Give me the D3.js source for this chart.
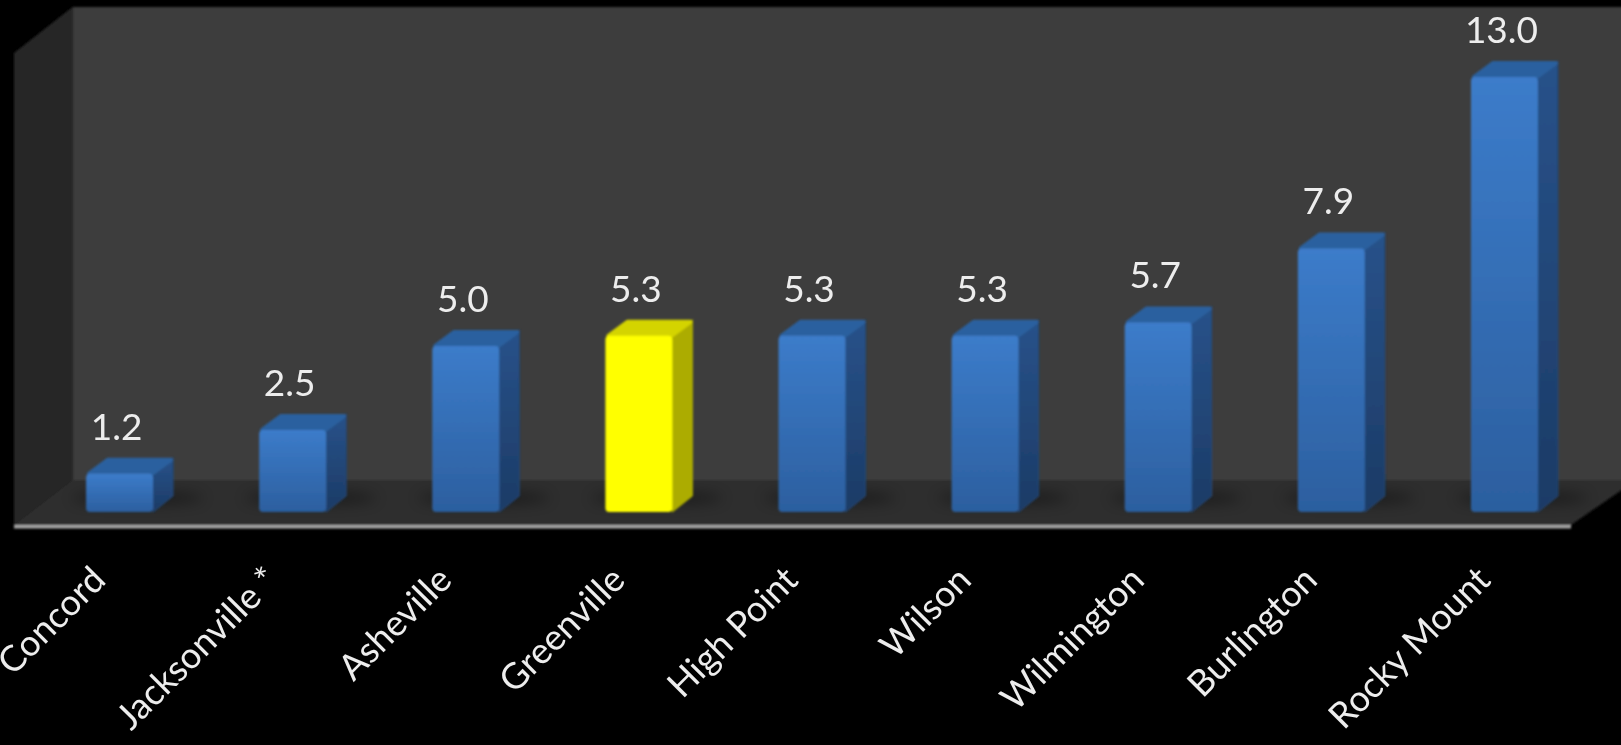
<!DOCTYPE html>
<html>
<head>
<meta charset="utf-8">
<script src="https://cdnjs.cloudflare.com/ajax/libs/d3/7.8.5/d3.min.js"></script>
<style>
html,body{margin:0;padding:0;background:#000;overflow:hidden}
svg{display:block}
text{font-family:Lato,"Open Sans",sans-serif}
</style>
</head>
<body>
<svg id="chart" width="1621" height="745"></svg>
<script>
const categories = ["Concord","Jacksonville *","Asheville","Greenville","High Point","Wilson","Wilmington","Burlington","Rocky Mount"];
const values = [1.2,2.5,5.0,5.3,5.3,5.3,5.7,7.9,13.0];
const highlighted = ["Greenville"];

const W = 1621, H = 745;
const svg = d3.select("#chart");
const defs = svg.append("defs");

const x = d3.scaleBand().domain(categories).range([33,1591]).paddingInner(0.613).paddingOuter(0.3065);
const y = d3.scaleLinear().domain([0,13]).range([514,77]);
const barBottom = y(0) - 2;
const depthX = 20, depthY = 16;

function grad(id, c1, c2){
  const g = defs.append("linearGradient").attr("id",id).attr("x1",0).attr("y1",0).attr("x2",0).attr("y2",1);
  g.append("stop").attr("offset",0).attr("stop-color",c1);
  g.append("stop").attr("offset",1).attr("stop-color",c2);
}
grad("blueFront","#3c7cca","#2c5f9f");
grad("blueSide","#28528a","#1c3b66");
defs.append("filter").attr("id","soft").attr("x","-50%").attr("y","-200%").attr("width","200%").attr("height","500%")
  .append("feGaussianBlur").attr("stdDeviation",7);
defs.append("filter").attr("id","textSoft").attr("x","-20%").attr("y","-20%").attr("width","140%").attr("height","140%")
  .append("feGaussianBlur").attr("stdDeviation",0.75);
defs.append("filter").attr("id","edgeSoft").attr("x","-5%").attr("y","-5%").attr("width","110%").attr("height","110%")
  .append("feGaussianBlur").attr("stdDeviation",0.9);

const line = d3.line();
// chart box: back wall, side wall, floor
const box = svg.append("g").attr("class","box").attr("filter","url(#edgeSoft)");
box.append("path").attr("fill","#3e3e3e").attr("d",line([[72.5,7],[W+5,7],[W+5,487],[72.5,480]])+"Z");
box.append("path").attr("fill","#282828").attr("d",line([[14,53],[72.5,7],[72.5,480],[14,525]])+"Z");
box.append("path").attr("fill","#2f2f2f").attr("d",line([[14,525],[72.5,480],[W+5,480],[W+5,487],[1571,525]])+"Z");
box.append("rect").attr("x",14).attr("y",525).attr("width",1557).attr("height",3.5).attr("fill","#a6a6a6");

// bars
const rows = categories.map((c,i)=>({c,v:values[i]}));
const bars = svg.append("g").selectAll("g").data(rows).join("g");
bars.append("ellipse")
  .attr("cx",d=>x(d.c)+x.bandwidth()/2+18).attr("cy",498)
  .attr("rx",66).attr("ry",6)
  .attr("fill","#000").attr("opacity",0.42).attr("filter","url(#soft)");
const solid = bars.append("g").attr("filter","url(#edgeSoft)");
const isHi = d => highlighted.includes(d.c);
solid.append("path")
  .attr("fill",d=>isHi(d)?"#acac00":"url(#blueSide)")
  .attr("stroke",d=>isHi(d)?"#acac00":"#234878").attr("stroke-width",1).attr("stroke-linejoin","round")
  .attr("d",d=>{
    const r=x(d.c)+x.bandwidth();
    return line([[r,y(d.v)],[r+depthX,y(d.v)-depthY],[r+depthX,barBottom-depthY],[r,barBottom]])+"Z";
  });
solid.append("path")
  .attr("fill",d=>isHi(d)?"#d4d400":"#2c619f")
  .attr("stroke",d=>isHi(d)?"#d4d400":"#2c619f").attr("stroke-width",4).attr("stroke-linejoin","round")
  .attr("d",d=>{
    const l=x(d.c), r=l+x.bandwidth();
    return line([[l+3,y(d.v)],[l+depthX+2,y(d.v)-depthY+2],[r+depthX-2,y(d.v)-depthY+2],[r-1,y(d.v)]])+"Z";
  });
solid.append("rect")
  .attr("x",d=>x(d.c)).attr("y",d=>y(d.v))
  .attr("width",x.bandwidth()).attr("height",d=>barBottom-y(d.v))
  .attr("rx",4)
  .attr("fill",d=>isHi(d)?"#ffff00":"url(#blueFront)");

// value labels
svg.append("g").attr("filter","url(#textSoft)").selectAll("text").data(rows).join("text")
  .attr("x",d=>x(d.c)+x.bandwidth()/2-3).attr("y",d=>y(d.v)-34)
  .attr("text-anchor","middle").attr("font-size",37).attr("fill","#ededed")
  .text(d=>d3.format(".1f")(d.v));

// category axis
const axis = svg.append("g").attr("transform","translate(0,527)").attr("filter","url(#textSoft)")
  .call(d3.axisBottom(x).tickSize(0));
axis.select(".domain").remove();
axis.selectAll("text")
  .attr("font-size",36).attr("fill","#ededed")
  .attr("text-anchor","end").attr("x",null).attr("y",null).attr("dy",null)
  .attr("transform","translate(-12,55) rotate(-45)");
</script>
</body>
</html>
